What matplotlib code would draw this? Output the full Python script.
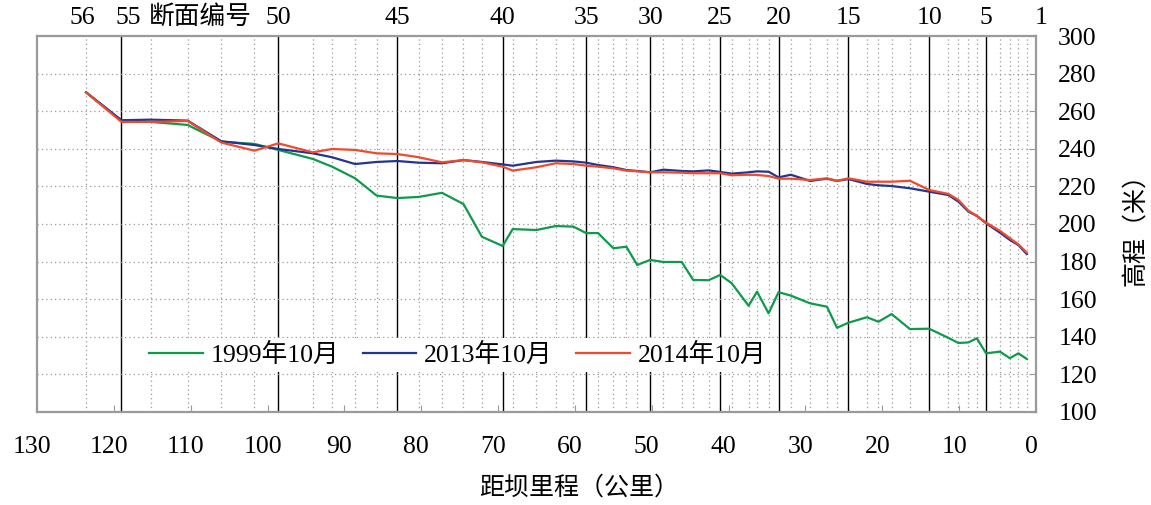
import matplotlib
matplotlib.use("Agg")
import matplotlib.pyplot as plt
import matplotlib.transforms as mtransforms

plt.rcParams['font.family'] = ['Liberation Serif', 'Noto Sans CJK SC']

# 断面编号 56 → 1 及其距坝里程 (km)
section_no = list(range(56, 0, -1))
section_km = [123.6, 119.0, 115.2, 110.4, 106.0, 101.7, 98.6, 94.1, 91.6, 88.6,
              85.8, 83.1, 80.3, 77.3, 74.5, 72.1, 69.4, 68.1, 65.0, 62.5,
              60.2, 58.5, 57.0, 55.0, 53.3, 51.9, 50.2, 48.5, 46.1, 44.6,
              42.6, 41.1, 39.6, 37.4, 36.3, 34.8, 33.5, 31.9, 29.4, 27.2,
              25.9, 24.4, 22.0, 20.5, 18.8, 16.4, 13.9, 11.4, 10.1, 8.8,
              7.7, 6.5, 4.7, 3.4, 2.3, 1.2]

elev_1999 = [270.0, 255.0, 254.3, 252.7, 243.8, 242.6, 239.4, 234.6, 230.5, 224.3,
             215.1, 213.8, 214.4, 216.6, 210.6, 193.2, 188.3, 197.3, 196.8, 198.9,
             198.6, 195.1, 195.2, 187.1, 187.9, 178.2, 180.9, 179.8, 179.8, 170.2,
             170.1, 172.9, 168.5, 156.5, 164.0, 152.5, 163.7, 161.9, 157.8, 156.0,
             144.8, 147.5, 150.4, 148.0, 152.1, 144.1, 144.3, 139.4, 136.7, 137.0,
             139.2, 131.2, 132.1, 128.6, 131.2, 128.2]

elev_2013 = [270.0, 255.2, 255.5, 255.0, 244.0, 242.0, 239.9, 237.6, 235.5, 231.9,
             233.0, 233.5, 232.6, 232.3, 234.0, 233.0, 231.7, 231.0, 233.0, 233.7,
             233.3, 232.6, 231.4, 230.2, 228.7, 228.2, 227.5, 228.9, 228.2, 228.0,
             228.5, 227.7, 226.8, 227.5, 228.0, 227.8, 224.8, 226.2, 222.9, 224.1,
             222.9, 223.9, 221.3, 220.6, 220.2, 219.0, 217.2, 215.4, 211.9, 206.6,
             204.3, 200.4, 195.4, 191.5, 188.8, 184.0]

elev_2014 = [270.0, 254.3, 254.3, 254.8, 243.3, 239.0, 242.9, 238.1, 239.9, 239.4,
             237.6, 237.2, 235.5, 232.8, 234.0, 232.8, 230.5, 228.4, 230.2, 232.3,
             231.9, 231.0, 230.5, 229.6, 228.4, 228.0, 227.5, 227.5, 227.3, 227.0,
             227.0, 227.0, 225.9, 226.2, 226.1, 225.5, 224.1, 224.1, 223.4, 224.3,
             223.0, 224.3, 222.5, 222.5, 222.5, 223.0, 218.1, 216.0, 212.8, 207.1,
             204.3, 200.7, 196.4, 192.4, 189.2, 184.8]

series_labels = ['1999年10月', '2013年10月', '2014年10月']
series_colors = ['#0e9a4a', '#22368f', '#f04a2c']

fig = plt.figure(figsize=(11.51, 5.05), dpi=100)
ax = fig.add_axes([0.0321, 0.1842, 0.8680, 0.7445])

# 断面位置竖线：每 5 个断面实线，其余点线
for no, km in zip(section_no, section_km):
    if no % 5 == 0:
        ax.axvline(km, color='black', lw=1.0, zorder=1)
    else:
        ax.axvline(km, color='#999999', lw=0.9, ls=(0, (1, 2.5)), zorder=1)

for yv in range(120, 300, 20):
    ax.axhline(yv, color='#999999', lw=0.9, ls=(0, (1, 2.5)), zorder=1)

for vals, lab, col in zip([elev_1999, elev_2013, elev_2014], series_labels, series_colors):
    ax.plot(section_km, vals, color=col, lw=1.6, label=lab, zorder=3)

ax.set_xlim(130, 0)
ax.set_ylim(100, 300)
ax.set_xticks(range(130, -1, -10))
ax.set_yticks(range(100, 301, 20))
ax.yaxis.tick_right()
ax.yaxis.set_label_position('right')
ax.tick_params(axis='x', direction='in', length=5, color='#999999', labelsize=18.5, pad=17)
ax.tick_params(axis='y', direction='in', length=5, color='#999999', labelsize=18.5, pad=16)
for sp in ax.spines.values():
    sp.set_color('#9a9a9a')
    sp.set_linewidth(1.6)

# x 刻度文字略向左偏
shift = mtransforms.ScaledTranslation(-5 / 100, 0, fig.dpi_scale_trans)
for lbl in ax.get_xticklabels():
    lbl.set_transform(lbl.get_transform() + shift)

ax.set_xlabel('距坝里程（公里）', fontsize=18)
ax.xaxis.set_label_coords(0.543, -0.17)
ax.set_ylabel('高程（米）', fontsize=18, labelpad=19)

# 顶部断面编号（个别标注稍作偏移，单位: 点）
label_nudge = {56: -3, 55: 5, 1: 10}
for no, km in zip(section_no, section_km):
    if no in (56, 1) or no % 5 == 0:
        ax.annotate(str(no), xy=(km, 1.0), xycoords=ax.get_xaxis_transform(),
                    xytext=(label_nudge.get(no, 0), 5), textcoords='offset points',
                    ha='center', va='bottom', fontsize=18.5)
ax.annotate('断面编号', xy=(108.8, 1.0), xycoords=ax.get_xaxis_transform(),
            xytext=(0, 5), textcoords='offset points',
            ha='center', va='bottom', fontsize=18.5)

leg = ax.legend(loc='center left', bbox_to_anchor=(0.107, 0.152), ncol=3, fontsize=18.5,
                frameon=True, fancybox=False, edgecolor='none', facecolor='white',
                framealpha=1, handlelength=2.1, handletextpad=0.3, columnspacing=0.9,
                borderpad=0.2, borderaxespad=0)
leg.set_zorder(4)

fig.savefig('out.png', dpi=100)
